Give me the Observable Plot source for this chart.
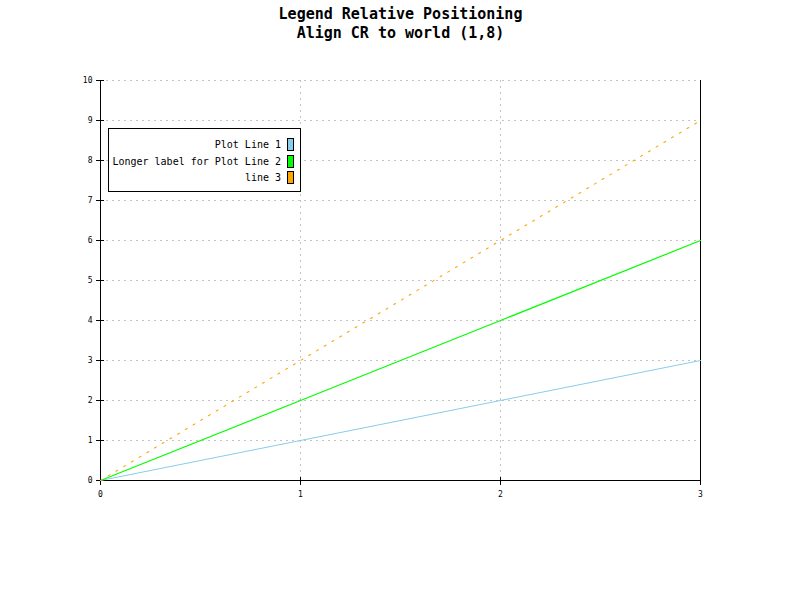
<!DOCTYPE html>
<html>
<head>
<meta charset="utf-8">
<script src="https://cdn.jsdelivr.net/npm/d3@7"></script>
<script src="https://cdn.jsdelivr.net/npm/@observablehq/plot@0.6"></script>
<style>
  html, body { margin: 0; padding: 0; background: #fff; }
  #wrap { position: relative; width: 800px; height: 600px; }
  #legend {
    position: absolute; box-sizing: border-box;
    border: 1px solid #000; background: #fff;
    font-family: "DejaVu Sans Mono", monospace; font-size: 10px; color: #000;
    padding: 7px 6px 5px 3px;
  }
  .row { display: flex; justify-content: flex-end; align-items: center; height: 16.5px; white-space: pre; }
  .sw { display: inline-block; width: 5px; height: 11px; border: 1px solid #000; margin-left: 6px; }
</style>
</head>
<body>
<div id="wrap"></div>
<script>
const xValues = [0, 1, 2, 3];
const line1 = [0, 1, 2, 3];
const line2 = [0, 2, 4, 6];
const line3 = [0, 3, 6, 9];
const seriesNames = ["Plot Line 1", "Longer label for Plot Line 2", "line 3"];
const seriesColors = ["#87ceeb", "#00ff00", "#ffa500"];
const xTicks = [0, 1, 2, 3];
const yTicks = [0, 1, 2, 3, 4, 5, 6, 7, 8, 9, 10];
const titleLines = ["Legend Relative Positioning", "Align CR to world (1,8)"];
const legendAnchor = {x: 1, y: 8};

const seriesValues = [line1, line2, line3];
const data = seriesValues.flatMap((vals, i) =>
  vals.map((v, j) => ({x: xValues[j], y: v, s: seriesNames[i]})));

const font = "DejaVu Sans Mono, monospace";

const chart = Plot.plot({
  width: 800, height: 600,
  marginLeft: 100, marginRight: 100, marginTop: 80, marginBottom: 120,
  style: {fontFamily: font, fontSize: "8px", background: "#fff", color: "#000"},
  x: {domain: [0, 3], ticks: xTicks, tickFormat: d3.format("d"), label: null},
  y: {domain: [0, 10], ticks: yTicks, tickFormat: d3.format("d"), label: null},
  marks: [
    Plot.gridX(xTicks, {stroke: "#c4c4c4", strokeOpacity: 1, strokeDasharray: "2,4"}),
    Plot.gridY(yTicks, {stroke: "#c4c4c4", strokeOpacity: 1, strokeDasharray: "2,4"}),
    Plot.axisX({ticks: xTicks, tickSize: 5, tickPadding: 6, tickFormat: d3.format("d"), fontSize: 8, label: null}),
    Plot.ruleX(xTicks, {x: d => d, y1: 0, y2: 0.075, stroke: "#000"}),
    Plot.axisY({ticks: yTicks, tickSize: 4, tickPadding: 4, tickFormat: d3.format("d"), fontSize: 8, label: null}),
    Plot.ruleY(yTicks, {y: d => d, x1: 0, x2: 0.02, stroke: "#000"}),
    Plot.ruleX([0, 3], {stroke: "#000", strokeWidth: 1}),
    Plot.ruleY([0], {stroke: "#000", strokeWidth: 1}),
    Plot.line(data.filter(d => d.s === seriesNames[0]), {x: "x", y: "y", stroke: seriesColors[0], strokeWidth: 1}),
    Plot.line(data.filter(d => d.s === seriesNames[1]), {x: "x", y: "y", stroke: seriesColors[1], strokeWidth: 1.2}),
    Plot.line(data.filter(d => d.s === seriesNames[2]), {x: "x", y: "y", stroke: seriesColors[2], strokeWidth: 1.1, strokeDasharray: "2,7"}),
    Plot.text([titleLines[0]], {frameAnchor: "top", dy: -72, text: d => d, fontSize: 15, fontWeight: "bold", fontFamily: font}),
    Plot.text([titleLines[1]], {frameAnchor: "top", dy: -53, text: d => d, fontSize: 15, fontWeight: "bold", fontFamily: font})
  ]
});

const wrap = document.getElementById("wrap");
wrap.appendChild(chart);

// Legend: center-right aligned to world coordinate (1, 8)
const lx = chart.scale("x").apply(legendAnchor.x);
const ly = chart.scale("y").apply(legendAnchor.y);
const legend = document.createElement("div");
legend.id = "legend";
seriesNames.forEach((name, i) => {
  const row = document.createElement("div");
  row.className = "row";
  const t = document.createElement("span");
  t.textContent = name;
  const sw = document.createElement("span");
  sw.className = "sw";
  sw.style.background = seriesColors[i];
  row.appendChild(t); row.appendChild(sw);
  legend.appendChild(row);
});
wrap.appendChild(legend);
const r = legend.getBoundingClientRect();
legend.style.left = (lx - r.width + 1) + "px";
legend.style.top = (ly - r.height / 2) + "px";
</script>
</body>
</html>
